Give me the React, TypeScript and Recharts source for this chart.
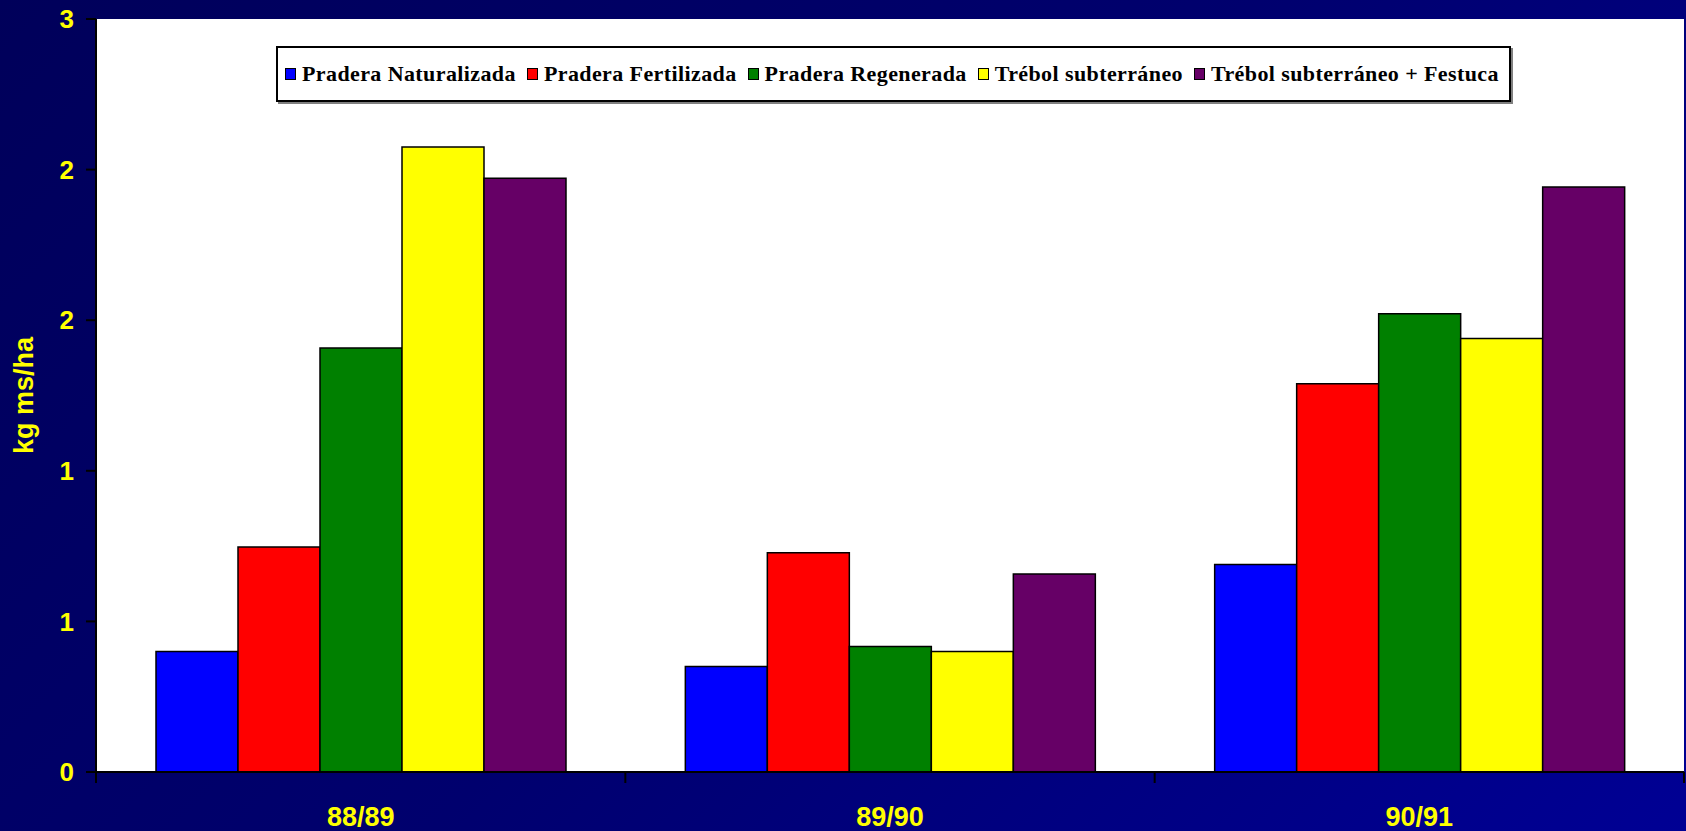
import { BarChart, Bar, XAxis, YAxis, Legend, CartesianGrid } from "recharts";

// Producción de materia seca por temporada y tipo de pradera
const seasons = ["88/89", "89/90", "90/91"];
const naturalizada = [0.48, 0.42, 0.827];
const fertilizada = [0.896, 0.874, 1.547];
const regenerada = [1.689, 0.5, 1.826];
const trebol = [2.49, 0.48, 1.727];
const trebolFestuca = [2.366, 0.789, 2.331];
const yTicks = [0, 0.6, 1.2, 1.8, 2.4, 3];

const seriesKeys = ["nat", "fer", "reg", "tre", "tfe"];
const seriesNames = [
  "Pradera Naturalizada",
  "Pradera Fertilizada",
  "Pradera Regenerada",
  "Trébol subterráneo",
  "Trébol subterráneo + Festuca",
];
const seriesColors = ["#0000ff", "#ff0000", "#008000", "#ffff00", "#660066"];

const data = seasons.map((s, i) => ({
  season: s,
  nat: naturalizada[i],
  fer: fertilizada[i],
  reg: regenerada[i],
  tre: trebol[i],
  tfe: trebolFestuca[i],
}));

const W = 1686;
const H = 831;
const M = { top: 19, right: 2, bottom: 0, left: 0 };
const Y_W = 96;
const BAND = (W - M.left - M.right - Y_W) / seasons.length;
const SANS = "'Liberation Sans', Arial, sans-serif";
const SERIF = "'Liberation Serif', 'Times New Roman', serif";

const XTick = (props: any) => {
  const { x, y, payload, index, visibleTicksCount } = props;
  const half = payload && payload.offset ? payload.offset : BAND / 2;
  const last = index === (visibleTicksCount ?? seasons.length) - 1;
  return (
    <g>
      <line x1={x - half} x2={x - half} y1={y} y2={y + 11} stroke="#000" strokeWidth={2} />
      {last && <line x1={x + half} x2={x + half} y1={y} y2={y + 11} stroke="#000" strokeWidth={2} />}
      <text
        x={x}
        y={y + 45}
        textAnchor="middle"
        dominantBaseline="central"
        fill="#ffff00"
        fontSize={27}
        fontWeight="bold"
        fontFamily={SANS}
      >
        {payload.value}
      </text>
    </g>
  );
};

const YLabel = (props: any) => {
  const vb = props.viewBox || { y: M.top, height: 753 };
  const cx = 24;
  const cy = vb.y + vb.height / 2;
  return (
    <text
      x={cx}
      y={cy}
      transform={`rotate(-90, ${cx}, ${cy})`}
      textAnchor="middle"
      dominantBaseline="central"
      fill="#ffff00"
      fontSize={27}
      fontWeight="bold"
      fontFamily={SANS}
    >
      kg ms/ha
    </text>
  );
};

const LegendBox = (props: any) => {
  const items = [...((props.payload || []) as any[])].sort(
    (a, b) => seriesNames.indexOf(a.value) - seriesNames.indexOf(b.value)
  );
  return (
    <div
      style={{
        boxSizing: "border-box",
        width: 1235,
        height: 56,
        background: "#fff",
        border: "2px solid #000",
        boxShadow: "2px 2px 0 #808080",
        display: "flex",
        alignItems: "center",
        paddingLeft: 7,
        whiteSpace: "nowrap",
      }}
    >
      {items.map((it, i) => (
        <div key={i} style={{ display: "flex", alignItems: "center", marginRight: 11 }}>
          <span
            style={{
              display: "inline-block",
              width: 9,
              height: 10,
              background: it.color,
              border: "1.5px solid #000",
              marginRight: 6,
            }}
          />
          <span
            style={{
              fontFamily: SERIF,
              fontWeight: "bold",
              fontSize: 22,
              letterSpacing: 0.4,
              color: "#000",
            }}
          >
            {it.value}
          </span>
        </div>
      ))}
    </div>
  );
};

export default function App() {
  return (
    <div
      style={{
        position: "fixed",
        left: 0,
        top: 0,
        width: W,
        height: H,
        background: "linear-gradient(135deg, #00005a 0%, #00006e 50%, #000094 100%)",
      }}
    >
      <BarChart
        width={W}
        height={H}
        data={data}
        margin={M}
        barCategoryGap={60}
        barGap={0}
      >
        <CartesianGrid fill="#ffffff" horizontal={false} vertical={false} />
        <XAxis
          xAxisId="top"
          orientation="top"
          dataKey="season"
          height={0}
          tick={false}
          tickLine={false}
          axisLine={{ stroke: "#808080", strokeWidth: 2 }}
        />
        <YAxis
          yAxisId="right"
          orientation="right"
          width={0}
          tick={false}
          tickLine={false}
          axisLine={{ stroke: "#808080", strokeWidth: 2 }}
        />
        <XAxis
          dataKey="season"
          height={59}
          tickLine={false}
          tickSize={0}
          tickMargin={0}
          axisLine={{ stroke: "#000", strokeWidth: 2 }}
          tick={<XTick />}
          interval={0}
        />
        <YAxis
          width={Y_W}
          domain={[0, 3]}
          ticks={yTicks}
          interval={0}
          tickFormatter={(v: number) => String(Math.round(v))}
          axisLine={{ stroke: "#000", strokeWidth: 2 }}
          tickLine={{ stroke: "#000", strokeWidth: 2 }}
          tickSize={10}
          tickMargin={12}
          tick={{ fill: "#ffff00", fontSize: 26, fontWeight: "bold", fontFamily: SANS }}
          label={<YLabel />}
        />
        <Legend
          layout="horizontal"
          verticalAlign="middle"
          align="center"
          content={<LegendBox />}
          wrapperStyle={{ top: 46, left: 276, width: 1235 }}
        />
        {seriesKeys.map((k, i) => (
          <Bar
            key={k}
            dataKey={k}
            name={seriesNames[i]}
            fill={seriesColors[i]}
            stroke="#000"
            strokeWidth={1.5}
            isAnimationActive={false}
          />
        ))}
      </BarChart>
    </div>
  );
}
